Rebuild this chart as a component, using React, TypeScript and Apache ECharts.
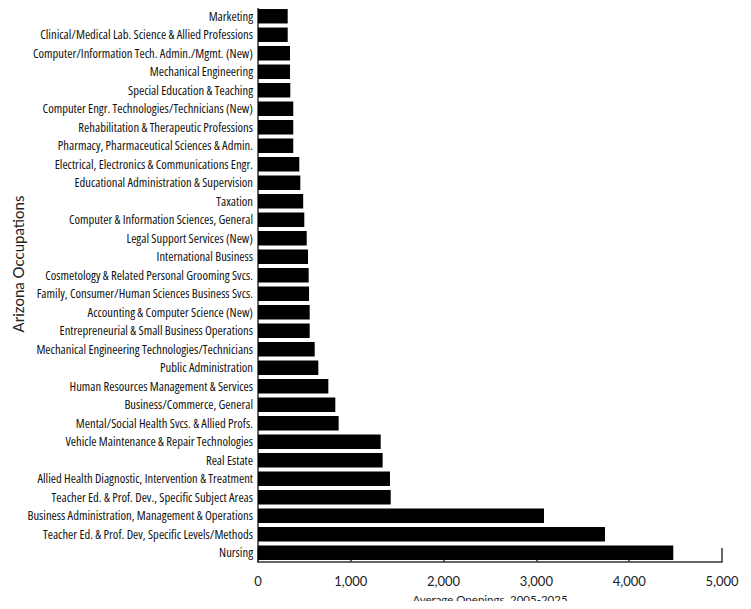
import React, { useEffect, useRef } from "react";
import * as echarts from "echarts";

const categories = [
  "Nursing",
  "Teacher Ed. & Prof. Dev, Specific Levels/Methods",
  "Business Administration, Management & Operations",
  "Teacher Ed. & Prof. Dev., Specific Subject Areas",
  "Allied Health Diagnostic, Intervention & Treatment",
  "Real Estate",
  "Vehicle Maintenance & Repair Technologies",
  "Mental/Social Health Svcs. & Allied Profs.",
  "Business/Commerce, General",
  "Human Resources Management & Services",
  "Public Administration",
  "Mechanical Engineering Technologies/Technicians",
  "Entrepreneurial & Small Business Operations",
  "Accounting & Computer Science (New)",
  "Family, Consumer/Human Sciences Business Svcs.",
  "Cosmetology & Related Personal Grooming Svcs.",
  "International Business",
  "Legal Support Services (New)",
  "Computer & Information Sciences, General",
  "Taxation",
  "Educational Administration & Supervision",
  "Electrical, Electronics & Communications Engr.",
  "Pharmacy, Pharmaceutical Sciences & Admin.",
  "Rehabilitation & Therapeutic Professions",
  "Computer Engr. Technologies/Technicians (New)",
  "Special Education & Teaching",
  "Mechanical Engineering",
  "Computer/Information Tech. Admin./Mgmt. (New)",
  "Clinical/Medical Lab. Science & Allied Professions",
  "Marketing",
];

const openings = [
  4475, 3739, 3082, 1430, 1422, 1343, 1322, 869, 833, 758, 650, 611, 557, 557,
  550, 546, 539, 525, 499, 487, 456, 445, 380, 380, 380, 348, 345, 345, 320,
  320,
];

const xTicks = { min: 0, max: 5000, interval: 1000 };
const xAxisTitle = "Average Openings, 2005-2025";
const yAxisTitle = "Arizona Occupations";

export default function App() {
  const ref = useRef<HTMLDivElement>(null);
  useEffect(() => {
    if (!ref.current) return;
    const chart = echarts.init(ref.current, null, { renderer: "svg" });
    chart.setOption({
      animation: false,
      backgroundColor: "#ffffff",
      grid: {
        left: 258,
        right: 29,
        top: 7,
        bottom: 47,
        containLabel: false,
        outerBoundsMode: "none",
      },
      graphic: [
        {
          type: "text",
          x: 18,
          y: 264,
          rotation: Math.PI / 2,
          style: {
            text: yAxisTitle,
            font: "15px Lato, sans-serif",
            fill: "#222",
            textAlign: "center",
            textVerticalAlign: "middle",
          },
        },
      ],
      xAxis: {
        type: "value",
        min: xTicks.min,
        max: xTicks.max,
        interval: xTicks.interval,
        name: xAxisTitle,
        nameLocation: "middle",
        nameGap: 31,
        nameTextStyle: { fontFamily: "Lato, sans-serif", fontSize: 11.5, color: "#222" },
        axisLine: { show: true, lineStyle: { color: "#333", width: 1.5 } },
        axisTick: { show: true, inside: true, length: 14, lineStyle: { color: "#333", width: 1.5 } },
        axisLabel: {
          fontFamily: "Lato, sans-serif",
          fontSize: 13,
          color: "#222",
          margin: 12,
          formatter: (v: number) => v.toLocaleString("en-US"),
        },
        splitLine: { show: false },
      },
      yAxis: {
        type: "category",
        data: categories,
        axisLine: { show: true, lineStyle: { color: "#333", width: 1.5 } },
        axisTick: { show: false },
        axisLabel: {
          fontFamily: "'Open Sans', sans-serif",
          fontSize: 12.6,
          color: "#111",
          margin: 5,
          interval: 0,
        },
        splitLine: { show: false },
      },
      series: [
        {
          type: "bar",
          data: openings,
          barCategoryGap: "22%",
          itemStyle: { color: "#000" },
        },
      ],
    });
    return () => chart.dispose();
  }, []);
  return (
    <div
      ref={ref}
      style={{ width: 751, height: 609, margin: -8, fontStretch: "condensed" }}
    />
  );
}
